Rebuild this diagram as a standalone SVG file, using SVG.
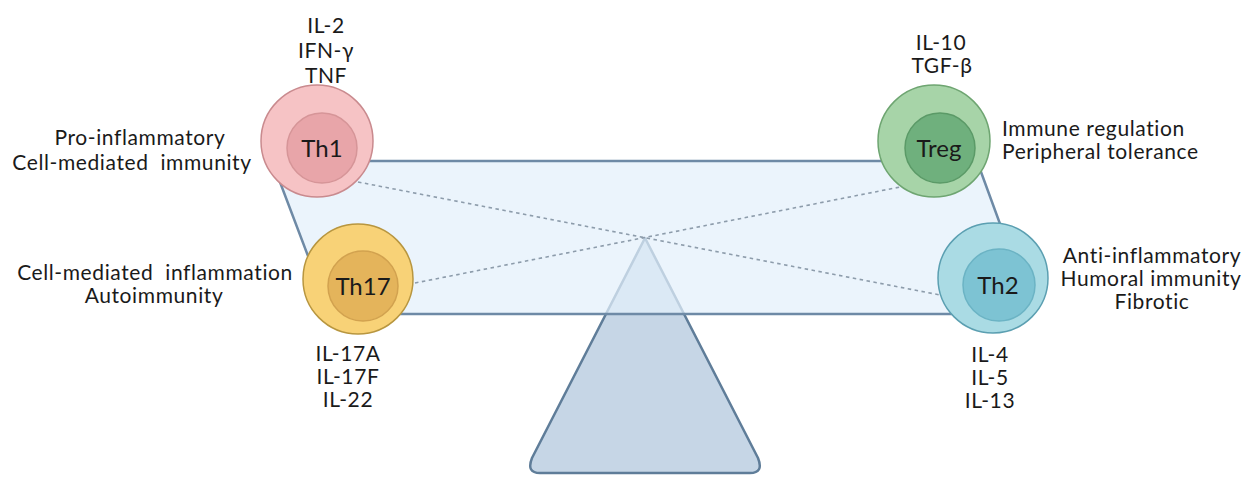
<svg xmlns="http://www.w3.org/2000/svg" width="1254" height="477" viewBox="0 0 1254 477">
<style>
text{font-family:Lato,"Open Sans","Liberation Sans",sans-serif;font-size:21px;letter-spacing:0.6px;fill:#1a1a1a}
.c{text-anchor:middle}
.s{text-anchor:start}
.lbl{font-size:24px;letter-spacing:0;text-anchor:middle}
.dash{stroke:#8d9cab;stroke-width:1.6;stroke-dasharray:3.5 3.5;fill:none}
</style>
<rect width="1254" height="477" fill="#ffffff"/>
<g id="fulcrum">
<path d="M645 238 L758 458 Q764 473 750 473 L540 473 Q526 473 532 458 Z" fill="#c6d6e6" stroke="#5f7d99" stroke-width="2.5" stroke-linejoin="round"/>
</g>
<g id="beam">
<polygon points="272,161 977,161 1033,314 330,314" fill="#e3f0fb" fill-opacity="0.72" stroke="#6e8aa6" stroke-width="2.5" stroke-linejoin="round"/>
</g>
<g id="connectors">
<line class="dash" x1="358" y1="182" x2="940" y2="295"/>
<line class="dash" x1="415" y1="283" x2="900" y2="187"/>
</g>
<g id="th1">
<circle cx="317" cy="141" r="56" fill="#f6c3c5" stroke="#c98a8e" stroke-width="1.5"/>
<circle cx="322" cy="148" r="35" fill="#e8a5a9" stroke="#d69598" stroke-width="1.5"/>
<text class="lbl" x="322" y="157">Th1</text>
<text class="c" x="326" y="33">IL-2</text>
<text class="c" x="326" y="58">IFN-γ</text>
<text class="c" x="326" y="83">TNF</text>
<text class="c" x="140" y="145">Pro-inflammatory</text>
<text class="c" x="132" y="170" xml:space="preserve">Cell-mediated  immunity</text>
</g>
<g id="treg">
<circle cx="934" cy="141" r="56" fill="#a7d4a8" stroke="#6ea571" stroke-width="1.5"/>
<circle cx="940" cy="148" r="35" fill="#6fb07d" stroke="#5b9a67" stroke-width="1.5"/>
<text class="lbl" x="939" y="157">Treg</text>
<text class="c" x="941" y="50">IL-10</text>
<text class="c" x="942" y="73">TGF-β</text>
<text class="s" x="1002" y="136">Immune regulation</text>
<text class="s" x="1002" y="159">Peripheral tolerance</text>
</g>
<g id="th17">
<circle cx="358" cy="279" r="55" fill="#f8d277" stroke="#b8963f" stroke-width="1.5"/>
<circle cx="363" cy="286" r="35" fill="#e4b45b" stroke="#d2a24f" stroke-width="1.5"/>
<text class="lbl" x="363" y="295">Th17</text>
<text class="c" x="155" y="280" xml:space="preserve">Cell-mediated  inflammation</text>
<text class="c" x="154" y="303">Autoimmunity</text>
<text class="c" x="348" y="361">IL-17A</text>
<text class="c" x="348" y="384">IL-17F</text>
<text class="c" x="348" y="407">IL-22</text>
</g>
<g id="th2">
<circle cx="993" cy="278" r="55" fill="#aadbe4" stroke="#5b9fb1" stroke-width="1.5"/>
<circle cx="999" cy="285" r="36" fill="#7dc3d3" stroke="#6bb3c4" stroke-width="1.5"/>
<text class="lbl" x="998" y="294">Th2</text>
<text class="c" x="1152" y="263">Anti-inflammatory</text>
<text class="c" x="1151" y="286">Humoral immunity</text>
<text class="c" x="1152" y="309">Fibrotic</text>
<text class="c" x="990" y="362">IL-4</text>
<text class="c" x="990" y="385">IL-5</text>
<text class="c" x="990" y="408">IL-13</text>
</g>
</svg>
